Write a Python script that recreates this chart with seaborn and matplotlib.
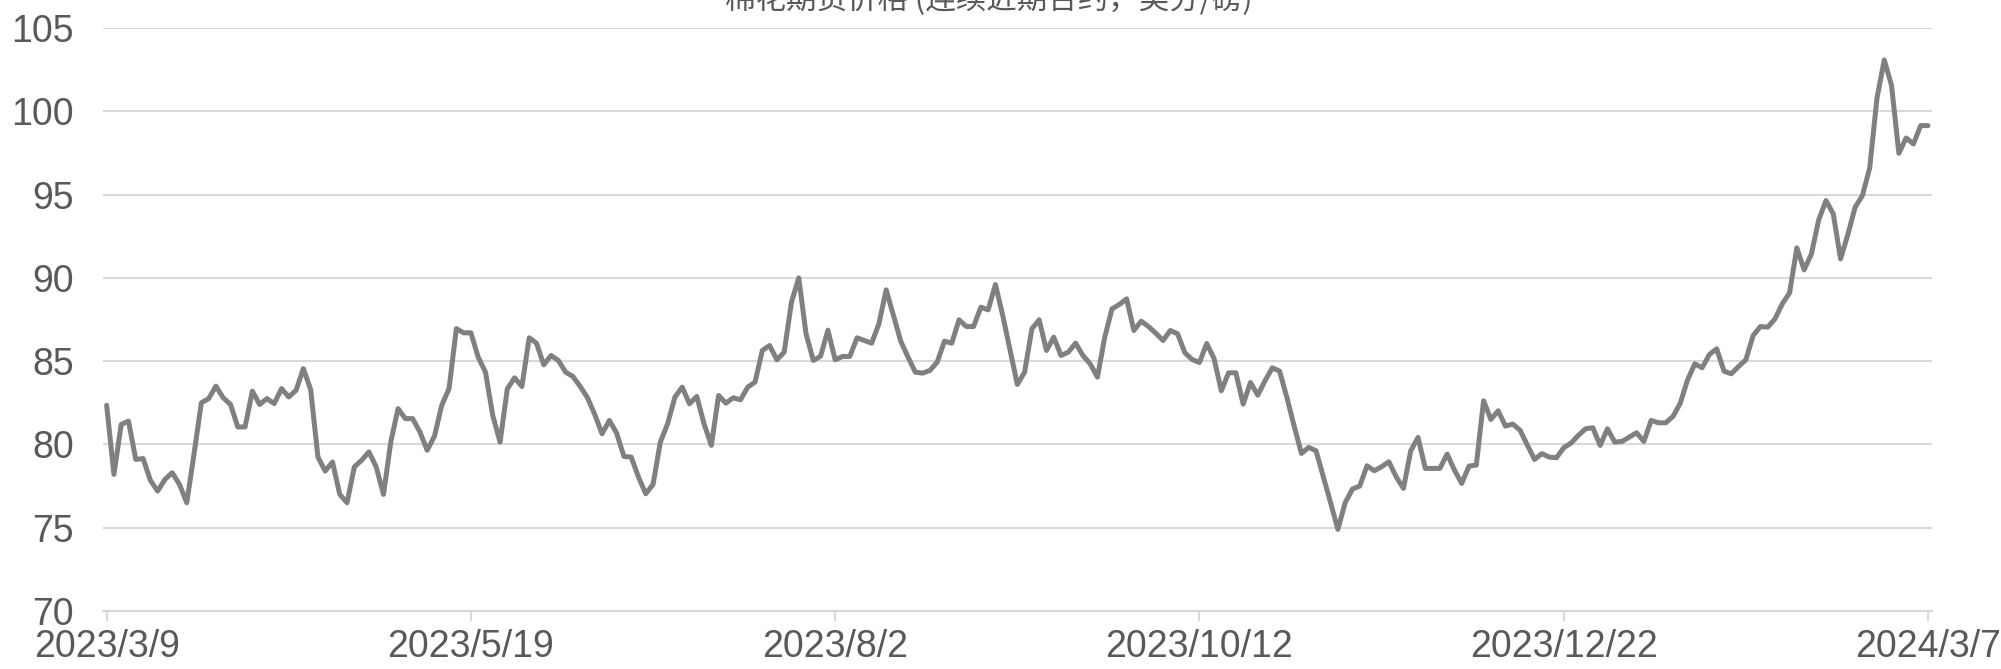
import pandas as pd
import matplotlib
matplotlib.use('Agg')
import matplotlib.pyplot as plt
import seaborn as sns

# 数据（从图上读取，按交易日顺序）
prices = [
    82.35, 78.2, 81.2, 81.4, 79.1, 79.15, 77.85, 77.2, 77.9, 78.3,
    77.6, 76.5, 79.45, 82.5, 82.75, 83.5, 82.8, 82.4, 81.05, 81.05,
    83.2, 82.4, 82.75, 82.45, 83.35, 82.85, 83.25, 84.55, 83.3, 79.25,
    78.4, 78.95, 77.0, 76.5, 78.65, 79.05, 79.55, 78.65, 77.0, 80.15,
    82.15, 81.55, 81.55, 80.75, 79.65, 80.5, 82.35, 83.35, 86.95, 86.7,
    86.7, 85.24, 84.34, 81.74, 80.14, 83.34, 84.0, 83.48, 86.4, 86.08,
    84.78, 85.34, 85.04, 84.34, 84.08, 83.48, 82.8, 81.8, 80.64, 81.44,
    80.68, 79.28, 79.24, 78.04, 77.04, 77.6, 80.14, 81.24, 82.84, 83.44,
    82.44, 82.88, 81.24, 79.94, 82.94, 82.48, 82.8, 82.68, 83.44, 83.74,
    85.64, 85.94, 85.08, 85.54, 88.54, 90.0, 86.64, 85.04, 85.3, 86.86,
    85.08, 85.28, 85.28, 86.4, 86.24, 86.08, 87.24, 89.28, 87.74, 86.2,
    85.24, 84.34, 84.28, 84.44, 84.94, 86.2, 86.08, 87.48, 87.08, 87.08,
    88.24, 88.08, 89.6, 87.74, 85.68, 83.6, 84.34, 86.94, 87.48, 85.64,
    86.44, 85.34, 85.54, 86.08, 85.34, 84.84, 84.04, 86.44, 88.14, 88.4,
    88.74, 86.84, 87.4, 87.08, 86.68, 86.24, 86.84, 86.64, 85.5, 85.1,
    84.92, 86.06, 85.16, 83.22, 84.3, 84.3, 82.42, 83.72, 82.96, 83.82,
    84.6, 84.4, 82.82, 81.1, 79.46, 79.82, 79.62, 78.06, 76.5, 74.9,
    76.5, 77.32, 77.5, 78.72, 78.42, 78.66, 78.96, 78.06, 77.36, 79.62,
    80.42, 78.56, 78.56, 78.56, 79.42, 78.46, 77.66, 78.7, 78.76, 82.62,
    81.5, 82.02, 81.1, 81.22, 80.86, 79.96, 79.1, 79.45, 79.24, 79.2,
    79.8, 80.08, 80.54, 80.94, 81.0, 79.94, 80.94, 80.14, 80.18, 80.44,
    80.7, 80.18, 81.44, 81.3, 81.3, 81.68, 82.48, 83.88, 84.84, 84.6,
    85.4, 85.74, 84.4, 84.24, 84.68, 85.08, 86.54, 87.08, 87.04, 87.54,
    88.44, 89.1, 91.8, 90.48, 91.44, 93.48, 94.64, 93.84, 91.14, 92.6,
    94.24, 94.94, 96.6, 100.8, 103.08, 101.54, 97.48, 98.4, 98.04, 99.14,
    99.14,
]
tick_labels = ['2023/3/9', '2023/5/19', '2023/8/2', '2023/10/12', '2023/12/22', '2024/3/7']
tick_step = 50
y_ticks = [70, 75, 80, 85, 90, 95, 100, 105]
title = '棉花期货价格 (连续近期合约，美分/磅)'

sns.set_style("white")
plt.rcParams['font.family'] = ['Liberation Sans', 'Noto Sans CJK SC', 'DejaVu Sans']

df = pd.DataFrame({'day': range(len(prices)), 'price': prices})

fig = plt.figure(figsize=(20.01, 6.69), dpi=100)
W, H = 2001, 669
ax = fig.add_axes([103 / W, 1 - 611 / H, (1932 - 103) / W, (611 - 28) / H])

sns.lineplot(data=df, x='day', y='price', ax=ax, color='#808080', linewidth=3.6)

ax.set_xlim(-0.5, len(prices) - 0.45)
ax.set_ylim(70, 105)
ax.set_yticks(y_ticks)
ax.set_xticks(list(range(0, len(prices), tick_step)))
ax.set_xticklabels(tick_labels)
ax.set_xlabel('')
ax.set_ylabel('')

ax.yaxis.grid(True, color='#d9d9d9', linewidth=1.5)
ax.xaxis.grid(False)
for side in ['left', 'top', 'right']:
    ax.spines[side].set_visible(False)
ax.spines['bottom'].set_color('#d9d9d9')
ax.spines['bottom'].set_linewidth(1.5)

ax.tick_params(axis='y', length=0, pad=21, labelsize=27, labelcolor='#595959')
ax.tick_params(axis='x', length=7, width=1.5, color='#d9d9d9', pad=6,
               labelsize=27, labelcolor='#595959', bottom=True)

# 标题在原图顶部被裁掉一半
fig.text(989 / W, 1 - 9 / H, title, ha='center', va='baseline', fontsize=22,
         color='#595959', family=['Noto Sans CJK SC', 'DejaVu Sans'])

fig.savefig('out.png', dpi=100)
plt.close(fig)
